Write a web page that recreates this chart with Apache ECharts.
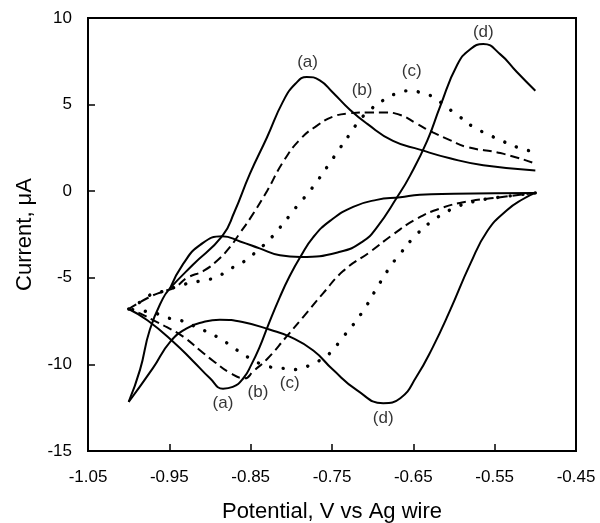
<!DOCTYPE html>
<html>
<head>
<meta charset="utf-8">
<script src="https://cdn.jsdelivr.net/npm/echarts@6/dist/echarts.min.js"></script>
<style>
    html, body {margin:0;padding:0;background:#fff}
    #chart {width:600px;height:523px}
</style>
</head>
<body>
<div id="chart"></div>
<script>
    // potential (V) / current (uA) pairs
    var aCathodic = [[-0.50,-0.10],[-0.55,-0.12],[-0.60,-0.15],[-0.642,-0.2],[-0.666,-0.35],[-0.695,-0.5],[-0.724,-0.9],[-0.752,-1.7],[-0.773,-2.65],[-0.789,-3.8],[-0.802,-4.9],[-0.814,-6.1],[-0.829,-7.8],[-0.839,-9.0],[-0.849,-10.0],[-0.859,-10.8],[-0.872,-11.3],[-0.884,-11.4],[-0.900,-10.8],[-0.921,-9.8],[-0.945,-8.7],[-0.977,-7.45],[-1.0,-6.8]];
    var aAnodic = [[-1.0,-12.17],[-0.986,-10.3],[-0.974,-8.0],[-0.958,-6.2],[-0.949,-5.6],[-0.921,-4.25],[-0.885,-2.6],[-0.870,-1.2],[-0.851,1.0],[-0.830,3.1],[-0.810,5.2],[-0.795,6.2],[-0.781,6.6],[-0.765,6.4],[-0.749,5.7],[-0.728,4.7],[-0.707,3.9],[-0.675,2.9],[-0.642,2.4],[-0.605,1.9],[-0.564,1.5],[-0.5,1.2]];
    var bCathodic = [[-0.5,-0.1],[-0.543,-0.35],[-0.584,-0.6],[-0.617,-1.0],[-0.646,-1.6],[-0.675,-2.5],[-0.703,-3.5],[-0.736,-4.6],[-0.761,-5.9],[-0.786,-7.3],[-0.806,-8.4],[-0.830,-9.7],[-0.847,-10.4],[-0.857,-10.8],[-0.875,-10.5],[-0.896,-9.8],[-0.912,-9.2],[-0.933,-8.4],[-0.953,-7.85],[-0.970,-7.45],[-0.986,-7.05],[-1.0,-6.8]];
    var bAnodic = [[-1.0,-6.8],[-0.974,-6.1],[-0.958,-5.8],[-0.943,-5.55],[-0.928,-5.0],[-0.908,-4.6],[-0.891,-4.0],[-0.875,-3.2],[-0.863,-2.4],[-0.851,-1.6],[-0.830,0.0],[-0.810,1.7],[-0.789,3.0],[-0.768,3.8],[-0.749,4.3],[-0.728,4.5],[-0.707,4.55],[-0.687,4.55],[-0.666,4.4],[-0.646,3.9],[-0.626,3.4],[-0.605,2.95],[-0.584,2.55],[-0.543,2.2],[-0.5,1.6]];
    var cCathodic = [[-0.5,-0.1],[-0.527,-0.25],[-0.552,-0.4],[-0.576,-0.6],[-0.601,-1.0],[-0.626,-1.7],[-0.646,-2.5],[-0.666,-3.6],[-0.679,-4.4],[-0.695,-5.6],[-0.713,-7.0],[-0.736,-8.4],[-0.756,-9.5],[-0.771,-9.9],[-0.786,-10.2],[-0.799,-10.3],[-0.814,-10.2],[-0.826,-10.15],[-0.839,-9.95],[-0.851,-9.65],[-0.863,-9.3],[-0.875,-8.9],[-0.888,-8.5],[-0.900,-8.2],[-0.921,-7.75],[-0.937,-7.45],[-0.953,-7.3],[-0.970,-7.0],[-0.986,-6.9],[-1.0,-6.8]];
    var cAnodic = [[-1.0,-6.8],[-0.986,-6.4],[-0.974,-6.0],[-0.959,-5.8],[-0.940,-5.5],[-0.925,-5.3],[-0.908,-5.15],[-0.891,-4.95],[-0.878,-4.55],[-0.863,-4.2],[-0.851,-3.8],[-0.836,-3.2],[-0.824,-2.65],[-0.814,-2.1],[-0.802,-1.4],[-0.792,-0.8],[-0.781,-0.2],[-0.771,0.4],[-0.756,1.4],[-0.740,2.5],[-0.728,3.3],[-0.716,4.1],[-0.703,4.7],[-0.687,5.25],[-0.670,5.65],[-0.654,5.8],[-0.638,5.65],[-0.626,5.45],[-0.609,4.85],[-0.593,4.3],[-0.576,3.7],[-0.559,3.3],[-0.543,2.95],[-0.523,2.55],[-0.5,2.25]];
    var dCathodic = [[-0.5,-0.1],[-0.515,-0.45],[-0.535,-1.1],[-0.559,-2.3],[-0.580,-4.2],[-0.605,-6.9],[-0.626,-9.0],[-0.646,-10.7],[-0.666,-11.95],[-0.687,-12.24],[-0.719,-11.5],[-0.749,-10.3],[-0.773,-9.2],[-0.802,-8.4],[-0.826,-8.0],[-0.860,-7.55],[-0.888,-7.42],[-0.908,-7.55],[-0.928,-7.9],[-0.949,-8.7],[-0.970,-10.2],[-1.0,-12.17]];
    var dAnodic = [[-0.949,-5.6],[-0.933,-4.2],[-0.912,-3.1],[-0.885,-2.6],[-0.863,-2.9],[-0.839,-3.3],[-0.814,-3.7],[-0.789,-3.8],[-0.740,-3.5],[-0.712,-2.9],[-0.695,-2.1],[-0.670,-0.35],[-0.654,0.9],[-0.633,2.9],[-0.617,4.9],[-0.596,7.3],[-0.580,8.2],[-0.564,8.5],[-0.543,7.9],[-0.523,6.9],[-0.5,5.8]];

    var labelNames = ['(a)', '(b)', '(c)', '(d)', '(a)', '(b)', '(c)', '(d)'];
    var labelX = [-0.780, -0.713, -0.652, -0.564, -0.884, -0.841, -0.802, -0.687];
    var labelY = [7.45, 5.85, 6.9, 9.2, -12.25, -11.6, -11.1, -13.1];

    var xTicks = [-1.05, -0.95, -0.85, -0.75, -0.65, -0.55, -0.45];
    var yMin = -15, yMax = 10, yStep = 5;

    var font = 'Liberation Sans, Arial, sans-serif';
    var solid = {color: '#000', width: 2, type: 'solid'};
    var dashed = {color: '#000', width: 2, type: [9, 5]};
    var dotted = {color: '#000', width: 3.4, type: [0.1, 12.5], cap: 'round'};

    function curve(name, data, style) {
        return {
            name: name,
            type: 'line',
            data: data,
            showSymbol: false,
            smooth: 0.5,
            lineStyle: style,
            silent: true
        };
    }

    var labelData = [];
    for (var i = 0; i < labelNames.length; i++) {
        labelData.push([labelX[i], labelY[i], labelNames[i]]);
    }

    var chart = echarts.init(document.getElementById('chart'));
    chart.setOption({
        animation: false,
        grid: {left: 88, right: 24, top: 18, bottom: 72, outerBoundsMode: 'none', containLabel: false,
            show: true, borderColor: '#000', borderWidth: 2, backgroundColor: 'transparent'},
        xAxis: {
            type: 'value',
            min: -1.05,
            max: -0.45,
            name: 'Potential, V vs Ag wire',
            nameLocation: 'middle',
            nameGap: 50,
            nameTextStyle: {fontFamily: font, fontSize: 22, color: '#000'},
            axisLine: {show: true, onZero: false, lineStyle: {color: '#000', width: 2}},
            axisTick: {show: true, inside: true, length: 7, customValues: xTicks, lineStyle: {color: '#000', width: 1.5}},
            axisLabel: {customValues: xTicks, margin: 18, fontFamily: font, fontSize: 17, color: '#000',
                formatter: function (v) { return v.toFixed(2); }},
            splitLine: {show: false}
        },
        yAxis: {
            type: 'value',
            min: yMin,
            max: yMax,
            interval: yStep,
            name: 'Current, μA',
            nameLocation: 'middle',
            nameGap: 52,
            nameTextStyle: {fontFamily: font, fontSize: 22, color: '#000'},
            axisLine: {show: true, onZero: false, lineStyle: {color: '#000', width: 2}},
            axisTick: {show: true, inside: true, length: 7, lineStyle: {color: '#000', width: 1.5}},
            axisLabel: {margin: 16, fontFamily: font, fontSize: 17, color: '#000'},
            splitLine: {show: false}
        },
        series: [
            curve('a cathodic', aCathodic, solid),
            curve('a anodic', aAnodic, solid),
            curve('b cathodic', bCathodic, dashed),
            curve('b anodic', bAnodic, dashed),
            curve('c cathodic', cCathodic, dotted),
            curve('c anodic', cAnodic, dotted),
            curve('d cathodic', dCathodic, solid),
            curve('d anodic', dAnodic, solid),
            {
                name: 'labels',
                type: 'scatter',
                data: labelData,
                symbolSize: 1,
                itemStyle: {color: 'rgba(0,0,0,0)'},
                silent: true,
                label: {
                    show: true,
                    position: 'inside',
                    fontFamily: font,
                    fontSize: 17,
                    color: '#000',
                    formatter: function (p) { return p.value[2]; }
                }
            }
        ]
    });
</script>
</body>
</html>
